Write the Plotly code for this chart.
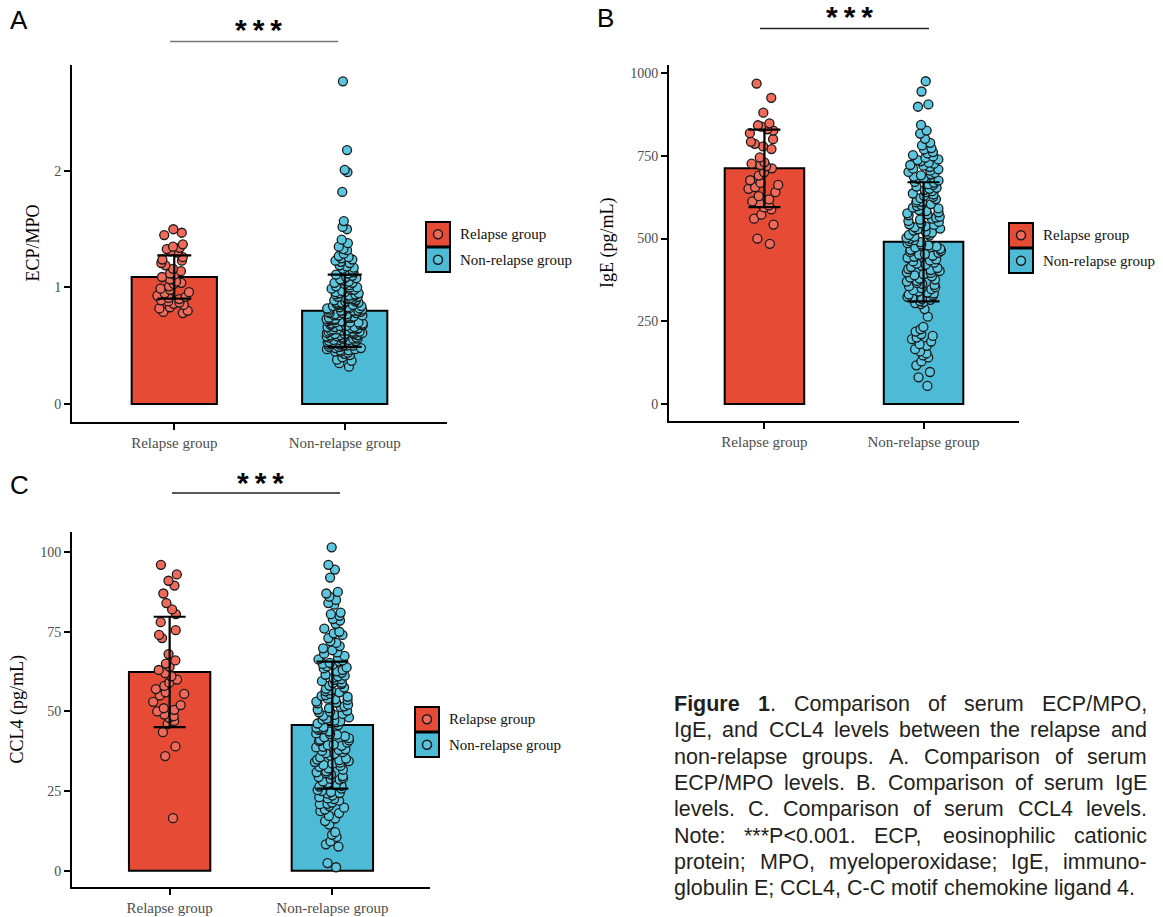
import plotly.graph_objects as go

W, H = 1163, 917

GROUPS = ["Relapse group", "Non-relapse group"]
BAR_COLORS = ["#E64B35", "#4DBBD5"]
POINT_COLORS = ["#EF6A5A", "#5BC6DE"]

# ---------------- Panel A : ECP/MPO ----------------
A_MEAN = [1.09, 0.80]
A_SD = [0.185, 0.31]
A_TICKS = [0, 1, 2]
A_REL = [1.50, 1.47, 1.45, 1.37, 1.35, 1.34, 1.33, 1.31, 1.30, 1.26, 1.24, 1.23, 1.21, 1.19,
         1.16, 1.14, 1.12, 1.11, 1.09, 1.07, 1.05, 1.04, 1.03, 1.01, 0.99, 0.98, 0.96, 0.95,
         0.93, 0.92, 0.91, 0.90, 0.89, 0.88, 0.87, 0.86, 0.85, 0.83, 0.82, 0.80, 0.79, 0.78]
A_NON = [2.77, 2.18, 2.01, 1.99, 1.82, 1.57, 1.52, 1.50, 1.41, 1.38, 1.35, 1.33, 1.32, 1.29,
         1.27, 1.26, 1.25, 1.23, 1.22, 1.19, 1.18, 1.16, 1.14, 1.13, 1.12, 1.10, 1.09, 1.08,
         1.07, 1.05, 1.04, 1.03, 1.02, 1.00, 0.99, 0.98, 0.98, 0.96, 0.95, 0.94, 0.93, 0.93,
         0.92, 0.91, 0.90, 0.89, 0.89, 0.88, 0.87, 0.86, 0.86, 0.85, 0.84, 0.83, 0.83, 0.82,
         0.81, 0.80, 0.80, 0.79, 0.78, 0.78, 0.77, 0.76, 0.76, 0.75, 0.74, 0.74, 0.73, 0.73,
         0.72, 0.71, 0.71, 0.70, 0.70, 0.69, 0.68, 0.68, 0.67, 0.67, 0.66, 0.66, 0.65, 0.64,
         0.64, 0.63, 0.63, 0.62, 0.62, 0.61, 0.61, 0.60, 0.60, 0.59, 0.59, 0.58, 0.58, 0.57,
         0.57, 0.56, 0.56, 0.55, 0.55, 0.54, 0.54, 0.53, 0.53, 0.52, 0.52, 0.51, 0.51, 0.50,
         0.50, 0.49, 0.49, 0.48, 0.48, 0.47, 0.47, 0.46, 0.46, 0.45, 0.45, 0.44, 0.43, 0.42,
         0.40, 0.38, 0.37, 0.35, 0.32,
         1.24, 1.21, 1.17, 1.15, 1.11, 1.06, 1.04, 1.01, 0.97, 0.96, 0.94, 0.92, 0.91, 0.88,
         0.87, 0.85, 0.84, 0.82, 0.81, 0.79, 0.77, 0.75, 0.72, 0.69, 0.66, 0.63, 0.61, 0.58,
         0.56, 0.53, 0.51, 0.49, 0.62, 0.57, 0.54, 0.65, 0.68, 0.71, 0.74, 0.59, 0.55, 0.50,
         0.60, 0.64, 0.70, 0.73, 0.76, 0.80, 0.85, 0.90, 0.95, 1.00, 0.87, 0.82, 0.78]

# ---------------- Panel B : IgE ----------------
B_MEAN = [712, 490]
B_SD = [117, 180]
B_TICKS = [0, 250, 500, 750, 1000]
B_REL = [968, 925, 880, 848, 842, 838, 830, 826, 818, 800, 792, 786, 778, 770, 745, 730,
         726, 722, 718, 712, 700, 690, 676, 668, 662, 655, 650, 640, 628, 618, 612, 606,
         600, 594, 588, 572, 560, 542, 500, 484]
B_NON = [975, 944, 905, 898, 843, 826, 817, 801, 789, 781, 773, 769, 761, 757, 752,
         748, 744, 739, 737, 733, 729, 726, 722, 720, 716, 711, 709, 705, 701, 698, 694,
         691, 687, 682, 680, 675, 671, 669, 664, 662, 657, 653, 650, 647, 643, 640, 636,
         633, 629, 626, 622, 619, 615, 611, 609, 604, 601,
         598, 593, 591, 586, 583, 579, 576, 573, 570, 566, 563, 560, 557, 553, 550, 546,
         543, 541, 537, 534, 530, 528, 524, 521, 518, 514, 511, 509, 505, 502, 499, 495,
         492, 489, 486, 482, 479, 476, 473, 469, 466, 463, 460, 457, 453, 451,
         448, 445, 442, 437, 434, 431, 427, 424, 421, 418, 414, 411, 408, 405, 402, 398,
         396, 392, 389, 386, 382, 379, 376, 372, 370, 366, 363, 360, 356, 353, 350, 347,
         344, 340, 337, 334, 331, 328, 324, 321, 318, 315, 311, 308, 305, 302,
         287, 264, 233, 226, 219, 211, 206, 201, 196, 189, 181, 176, 166, 159, 153, 147,
         141, 129, 117, 97, 81, 55]

# ---------------- Panel C : CCL4 ----------------
C_MEAN = [62.4, 45.7]
C_SD = [17.3, 19.9]
C_TICKS = [0, 25, 50, 75, 100]
C_REL = [96, 93, 91, 89.5, 87, 84, 82, 80.5, 78, 75.5, 74, 73, 68, 66, 65, 64, 63, 62,
         61, 60, 59, 58, 57, 56, 55.5, 55, 53, 52, 51, 50.5, 50, 49, 48.5, 48, 47, 46,
         43.5, 39, 36, 16.5]
C_NON = [101.5, 96, 94.5, 92, 87.5, 87, 86, 85, 84, 83.5, 81, 80.5, 80, 79, 78.5, 77.5,
         76, 75, 74.5, 74, 73, 72, 71.5, 70.5,
         69.8, 69.2, 68.5, 68.1, 67.4, 66.8, 66.3, 65.7, 65.2, 64.6, 64.1, 63.5, 63.0, 62.6,
         62.1, 61.5, 61.0, 60.6, 60.1, 59.5, 59.0, 58.6, 58.1, 57.5, 57.1, 56.6, 56.0, 55.5,
         55.1, 54.6, 54.0, 53.6, 53.1, 52.5, 52.1, 51.6, 51.0, 50.6, 50.2,
         49.7, 49.2, 48.6, 48.1, 47.7, 47.1, 46.6, 46.2, 45.7, 45.1, 44.6, 44.2, 43.7, 43.1,
         42.7, 42.2, 41.6, 41.1, 40.7, 40.2, 39.6, 39.2, 38.7, 38.1, 37.6, 37.2, 36.7, 36.1,
         35.6, 35.2, 34.7, 34.1, 33.6, 33.2, 32.6, 32.1, 31.7, 31.2, 30.6, 30.2,
         29.7, 29.1, 28.6, 28.0, 27.5, 26.9, 26.4, 25.8, 25.3, 24.7, 24.2, 23.6, 23.1, 22.5,
         22.0, 21.4, 20.9, 20.3, 19.8, 19.2, 18.7, 18.1,
         17.2, 16.4, 15.6, 14.5, 12.1, 11.3, 10.6, 9.2, 8.3, 7.6, 2.4, 1.1,
         66.0, 63.8, 61.2, 58.9, 56.3, 53.8, 51.4, 48.9, 46.9, 44.9, 42.9, 40.9, 38.9, 36.9,
         34.9, 32.9, 30.9, 28.8, 26.6, 24.4, 22.7, 21.0, 64.9, 59.9, 54.9, 49.9, 44.4, 39.4,
         34.4, 29.4, 25.0, 52.8, 47.4, 41.9, 37.9, 33.9]

PANELS = [
    dict(letter="A", title="ECP/MPO", mean=A_MEAN, sd=A_SD, pts=[A_REL, A_NON], ticks=A_TICKS,
         yr=[-0.155, 2.91], px=(72, 447), py=(65, 422), cap=17,
         star=(258, 29), line=(170, 338, 41.5), linecol="#777777",
         ytitle_x=32, leg=(426, 222), letter_xy=(19, 20)),
    dict(letter="B", title="IgE (pg/mL)", mean=B_MEAN, sd=B_SD, pts=[B_REL, B_NON], ticks=B_TICKS,
         yr=[-51, 1024], px=(669, 1019), py=(65, 421), cap=16,
         star=(849, 17), line=(760, 929, 28.5), linecol="#222222",
         ytitle_x=608, leg=(1009, 223), letter_xy=(605, 18)),
    dict(letter="C", title="CCL4 (pg/mL)", mean=C_MEAN, sd=C_SD, pts=[C_REL, C_NON], ticks=C_TICKS,
         yr=[-5.1, 106.3], px=(72, 430), py=(532, 887), cap=16,
         star=(260, 482), line=(172, 340, 493), linecol="#222222",
         ytitle_x=17, leg=(415, 707), letter_xy=(19, 485)),
]

SERIF = "Liberation Serif"
SANS = "Liberation Sans"
STARS = "<b>*\u2009*\u2009*</b>"


def fx(x):
    return x / W


def fy(y):
    return 1 - y / H


fig = go.Figure()
layout = dict(width=W, height=H, autosize=False, margin=dict(l=0, r=0, t=0, b=0, pad=0),
              paper_bgcolor="white", plot_bgcolor="white", showlegend=False,
              boxmode="overlay", barmode="overlay")
shapes, annotations = [], []

for i, p in enumerate(PANELS):
    sfx = "" if i == 0 else str(i + 1)
    xa, ya = "x" + sfx, "y" + sfx
    fig.add_trace(go.Bar(x=[0, 1], y=p["mean"], width=0.5, xaxis=xa, yaxis=ya,
                         marker=dict(color=BAR_COLORS, line=dict(color="black", width=2)),
                         hoverinfo="skip"))
    for g in range(2):
        fig.add_trace(go.Box(y=p["pts"][g], x0=g, xaxis=xa, yaxis=ya, boxpoints="all",
                             jitter=1, pointpos=0, width=0.22,
                             fillcolor="rgba(0,0,0,0)",
                             line=dict(width=0, color="rgba(0,0,0,0)"),
                             marker=dict(size=9, color=POINT_COLORS[g],
                                         line=dict(width=1.3, color="#1A1A1A")),
                             hoverinfo="y"))
    fig.add_trace(go.Scatter(x=[0, 1], y=p["mean"], mode="markers", xaxis=xa, yaxis=ya,
                             marker=dict(size=2, color="rgba(0,0,0,0)"),
                             error_y=dict(type="data", array=p["sd"], visible=True,
                                          color="black", thickness=2.2, width=p["cap"]),
                             hoverinfo="skip"))
    axis_common = dict(showline=True, linewidth=2, linecolor="black", ticks="outside",
                       ticklen=6, tickwidth=2, tickcolor="black", showgrid=False,
                       zeroline=False, fixedrange=True)
    layout["xaxis" + sfx] = dict(axis_common, domain=[fx(p["px"][0]), fx(p["px"][1])],
                                 anchor=ya, type="linear", range=[-0.6, 1.6],
                                 tickvals=[0, 1], ticktext=GROUPS,
                                 tickfont=dict(family=SERIF, size=15, color="#4D4D4D"))
    layout["yaxis" + sfx] = dict(axis_common, domain=[fy(p["py"][1]), fy(p["py"][0])],
                                 anchor=xa, range=p["yr"], tickvals=p["ticks"],
                                 tickfont=dict(family=SERIF, size=14, color="#4D4D4D"))
    annotations.append(dict(x=fx(p["ytitle_x"]), y=fy((p["py"][0] + p["py"][1]) / 2),
                            xref="paper", yref="paper", text=p["title"], textangle=-90,
                            showarrow=False, font=dict(family=SERIF, size=18, color="black"),
                            xanchor="center", yanchor="middle"))
    annotations.append(dict(x=fx(p["letter_xy"][0]), y=fy(p["letter_xy"][1]), xref="paper",
                            yref="paper", text=p["letter"], showarrow=False,
                            font=dict(family=SANS, size=26, color="black"),
                            xanchor="center", yanchor="middle"))
    annotations.append(dict(x=fx(p["star"][0]), y=fy(p["star"][1]), xref="paper", yref="paper",
                            text=STARS, showarrow=False,
                            font=dict(family=SANS, size=30, color="black"),
                            xanchor="center", yanchor="middle"))
    lx0, lx1, ly = p["line"]
    shapes.append(dict(type="line", xref="paper", yref="paper", x0=fx(lx0), x1=fx(lx1),
                       y0=fy(ly), y1=fy(ly), line=dict(color=p["linecol"], width=1.3)))
    bx, by = p["leg"]
    for g in range(2):
        y0 = by + g * 25.5
        shapes.append(dict(type="rect", xref="paper", yref="paper", x0=fx(bx), x1=fx(bx + 24),
                           y0=fy(y0), y1=fy(y0 + 24.5), fillcolor=BAR_COLORS[g],
                           line=dict(color="black", width=2)))
        cx, cy = bx + 12, y0 + 12.25
        shapes.append(dict(type="circle", xref="paper", yref="paper", x0=fx(cx - 4.5),
                           x1=fx(cx + 4.5), y0=fy(cy - 4.5), y1=fy(cy + 4.5),
                           fillcolor=POINT_COLORS[g], line=dict(color="#1A1A1A", width=1.5)))
        annotations.append(dict(x=fx(bx + 32), y=fy(cy), xref="paper", yref="paper",
                                text=GROUPS[g], showarrow=False,
                                font=dict(family=SERIF, size=15, color="#111111"),
                                xanchor="left", yanchor="middle"))

# ---------------- Caption (justified) ----------------
# each line: list of words; each word is a list of (text, bold) segments
CAPTION = [
    [[("Figure", True)], [("1", True), (".", False)], [("Comparison", False)], [("of", False)],
     [("serum", False)], [("ECP/MPO,", False)]],
    "IgE, and CCL4 levels between the relapse and",
    "non-relapse groups. A. Comparison of serum",
    "ECP/MPO levels. B. Comparison of serum IgE",
    "levels. C. Comparison of serum CCL4 levels.",
    "Note: ***P<0.001. ECP, eosinophilic cationic",
    "protein; MPO, myeloperoxidase; IgE, immuno-",
    "globulin E; CCL4, C-C motif chemokine ligand 4.",
]
CAP_SIZE = 21.5
CAP_L, CAP_R = 673, 1146
CAP_Y0, CAP_DY = 704, 26.3

REG = {' ': 278, 'a': 556, 'b': 556, 'c': 500, 'd': 556, 'e': 556, 'f': 278, 'g': 556, 'h': 556,
       'i': 222, 'j': 222, 'k': 500, 'l': 222, 'm': 833, 'n': 556, 'o': 556, 'p': 556, 'q': 556,
       'r': 333, 's': 500, 't': 278, 'u': 556, 'v': 500, 'w': 722, 'x': 500, 'y': 500, 'z': 500,
       'A': 667, 'B': 667, 'C': 722, 'D': 722, 'E': 667, 'F': 611, 'G': 778, 'H': 722, 'I': 278,
       'J': 500, 'K': 667, 'L': 556, 'M': 833, 'N': 722, 'O': 778, 'P': 667, 'Q': 778, 'R': 722,
       'S': 667, 'T': 611, 'U': 722, 'V': 667, 'W': 944, 'X': 667, 'Y': 667, 'Z': 611,
       '.': 278, ',': 278, ';': 278, ':': 278, '-': 333, '/': 278, '*': 389, '<': 584,
       '(': 333, ')': 333}
BOLD = {'F': 611, 'i': 278, 'g': 611, 'u': 611, 'r': 389, 'e': 556, '1': 556}


def word_info(segments):
    html, width = "", 0.0
    for text, bold in segments:
        for ch in text:
            if ch.isdigit():
                w = 556
            elif bold:
                w = BOLD.get(ch, REG.get(ch, 556))
            else:
                w = REG.get(ch, 556)
            width += w
        esc = text.replace("&", "&amp;").replace("<", "&lt;")
        html += ("<b>%s</b>" % esc) if bold else esc
    return html, width * CAP_SIZE / 1000.0


for li, line in enumerate(CAPTION):
    if isinstance(line, str):
        words = [[(w, False)] for w in line.split(" ")]
    else:
        words = line
    infos = [word_info(w) for w in words]
    total = sum(wd for _, wd in infos)
    last = (li == len(CAPTION) - 1)
    gap = (REG[' '] * CAP_SIZE / 1000.0) if last else (CAP_R - CAP_L - total) / (len(words) - 1)
    x = CAP_L
    yy = CAP_Y0 + li * CAP_DY
    for html, wd in infos:
        annotations.append(dict(x=fx(x), y=fy(yy), xref="paper", yref="paper", text=html,
                                showarrow=False, xanchor="left", yanchor="middle",
                                borderpad=0,
                                font=dict(family=SANS, size=CAP_SIZE, color="#231F20")))
        x += wd + gap

layout["shapes"] = shapes
layout["annotations"] = annotations
fig.update_layout(**layout)
fig.write_html("out.html")
